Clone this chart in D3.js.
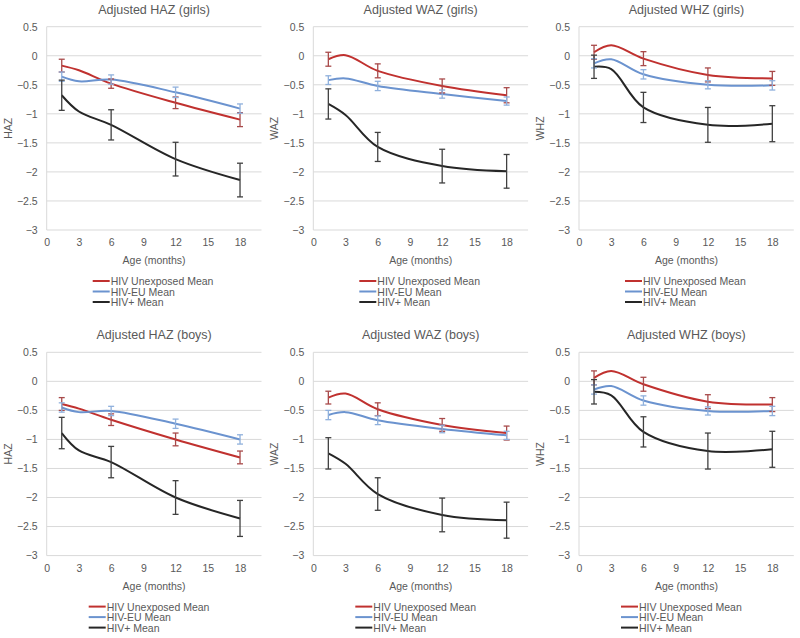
<!DOCTYPE html>
<html><head><meta charset="utf-8">
<script src="https://cdn.jsdelivr.net/npm/d3@7"></script>
<style>body{margin:0;background:#fff}svg{display:block}text{font-family:"Liberation Sans",Arial,sans-serif;fill:#595959}</style>
</head><body><svg id="c" width="800" height="638"></svg>
<script>
const ages = [1.4, 3, 6, 12, 18];
const xTicks = [0, 3, 6, 9, 12, 15, 18];
const yTicks = [0.5, 0, -0.5, -1, -1.5, -2, -2.5, -3];
const seriesNames = ["HIV Unexposed Mean", "HIV-EU Mean", "HIV+ Mean"];
const panelTitles = ["Adjusted HAZ (girls)", "Adjusted WAZ (girls)", "Adjusted WHZ (girls)", "Adjusted HAZ (boys)", "Adjusted WAZ (boys)", "Adjusted WHZ (boys)"];
const yLabels = ["HAZ", "WAZ", "WHZ", "HAZ", "WAZ", "WHZ"];

// HAZ girls
const hazGirlsUnexp = [-0.17, -0.25, -0.48, -0.81, -1.10];
const hazGirlsUnexpErr = [0.11, null, 0.08, 0.10, 0.12];
const hazGirlsEU = [-0.36, -0.44, -0.41, -0.63, -0.91];
const hazGirlsEUErr = [0.08, null, 0.08, 0.09, 0.08];
const hazGirlsPos = [-0.68, -0.96, -1.19, -1.78, -2.14];
const hazGirlsPosErr = [0.26, null, 0.26, 0.29, 0.29];
// WAZ girls
const wazGirlsUnexp = [-0.06, 0.01, -0.26, -0.52, -0.68];
const wazGirlsUnexpErr = [0.12, null, 0.12, 0.12, 0.13];
const wazGirlsEU = [-0.42, -0.39, -0.52, -0.66, -0.78];
const wazGirlsEUErr = [0.075, null, 0.08, 0.07, 0.07];
const wazGirlsPos = [-0.83, -1.02, -1.57, -1.90, -1.99];
const wazGirlsPosErr = [0.26, null, 0.25, 0.29, 0.29];
// WHZ girls
const whzGirlsUnexp = [0.06, 0.18, -0.05, -0.33, -0.39];
const whzGirlsUnexpErr = [0.12, null, 0.12, 0.12, 0.12];
const whzGirlsEU = [-0.13, -0.06, -0.32, -0.50, -0.51];
const whzGirlsEUErr = [0.08, null, 0.08, 0.07, 0.08];
const whzGirlsPos = [-0.19, -0.23, -0.89, -1.19, -1.17];
const whzGirlsPosErr = [0.20, null, 0.26, 0.30, 0.31];
// HAZ boys
const hazBoysUnexp = [-0.39, -0.47, -0.66, -1.00, -1.31];
const hazBoysUnexpErr = [0.11, null, 0.10, 0.11, 0.11];
const hazBoysEU = [-0.45, -0.53, -0.51, -0.73, -1.00];
const hazBoysEUErr = [0.08, null, 0.08, 0.08, 0.08];
const hazBoysPos = [-0.89, -1.19, -1.39, -2.00, -2.36];
const hazBoysPosErr = [0.27, null, 0.27, 0.29, 0.31];
// WAZ boys
const wazBoysUnexp = [-0.28, -0.21, -0.48, -0.75, -0.89];
const wazBoysUnexpErr = [0.11, null, 0.11, 0.11, 0.12];
const wazBoysEU = [-0.58, -0.53, -0.67, -0.82, -0.93];
const wazBoysEUErr = [0.08, null, 0.075, 0.065, 0.07];
const wazBoysPos = [-1.24, -1.42, -1.94, -2.30, -2.39];
const wazBoysPosErr = [0.27, null, 0.28, 0.29, 0.31];
// WHZ boys
const whzBoysUnexp = [0.06, 0.18, -0.05, -0.35, -0.40];
const whzBoysUnexpErr = [0.12, null, 0.12, 0.12, 0.12];
const whzBoysEU = [-0.14, -0.08, -0.33, -0.51, -0.51];
const whzBoysEUErr = [0.08, null, 0.08, 0.07, 0.08];
const whzBoysPos = [-0.18, -0.24, -0.87, -1.20, -1.17];
const whzBoysPosErr = [0.21, null, 0.26, 0.31, 0.31];

const panels = [
  [[hazGirlsUnexp, hazGirlsUnexpErr], [hazGirlsEU, hazGirlsEUErr], [hazGirlsPos, hazGirlsPosErr]],
  [[wazGirlsUnexp, wazGirlsUnexpErr], [wazGirlsEU, wazGirlsEUErr], [wazGirlsPos, wazGirlsPosErr]],
  [[whzGirlsUnexp, whzGirlsUnexpErr], [whzGirlsEU, whzGirlsEUErr], [whzGirlsPos, whzGirlsPosErr]],
  [[hazBoysUnexp, hazBoysUnexpErr], [hazBoysEU, hazBoysEUErr], [hazBoysPos, hazBoysPosErr]],
  [[wazBoysUnexp, wazBoysUnexpErr], [wazBoysEU, wazBoysEUErr], [wazBoysPos, wazBoysPosErr]],
  [[whzBoysUnexp, whzBoysUnexpErr], [whzBoysEU, whzBoysEUErr], [whzBoysPos, whzBoysPosErr]]
];

const lineColors = ["#c0312f", "#6b93cf", "#262626"];
const errColors = ["#a84a4a", "#8fb0dc", "#404040"];

const svg = d3.select("#c");
const colX = [46.7, 313.3, 579];
const rowY = [26.7, 352.3];
const W = 214.8, H = 203.3;

panels.forEach((series, i) => {
  const col = i % 3, row = Math.floor(i / 3);
  const g = svg.append("g").attr("transform", `translate(${colX[col]},${rowY[row]})`);
  const x = d3.scaleLinear().domain([0, 20]).range([0, W]);
  const y = d3.scaleLinear().domain([-3, 0.5]).range([H, 0]);

  g.append("g").selectAll("line").data(yTicks).join("line")
    .attr("x1", 0).attr("x2", W).attr("y1", d => y(d)).attr("y2", d => y(d))
    .attr("stroke", "#d9d9d9").attr("stroke-width", 1);
  g.append("line").attr("x1", 0).attr("x2", 0).attr("y1", 0).attr("y2", H)
    .attr("stroke", "#d9d9d9");

  const ya = g.append("g").call(d3.axisLeft(y).tickValues(yTicks).tickSize(0).tickPadding(9).tickFormat(d => d3.format("")(d)));
  ya.select(".domain").remove();
  ya.selectAll("text").attr("font-size", 10.5).attr("fill", "#595959").style("font-family", '"Liberation Sans",Arial,sans-serif');

  const xa = g.append("g").attr("transform", `translate(0,${H})`)
    .call(d3.axisBottom(x).tickValues(xTicks).tickSize(0).tickPadding(9));
  xa.select(".domain").remove();
  xa.selectAll("text").attr("font-size", 10.5).attr("fill", "#595959").style("font-family", '"Liberation Sans",Arial,sans-serif');

  g.append("text").attr("x", W / 2).attr("y", -13).attr("text-anchor", "middle")
    .attr("font-size", 12.5).text(panelTitles[i]);
  g.append("text").attr("transform", `translate(${-35},${H / 2}) rotate(-90)`)
    .attr("text-anchor", "middle").attr("font-size", 10.5).text(yLabels[i]);
  g.append("text").attr("x", W / 2).attr("y", H + 34).attr("text-anchor", "middle")
    .attr("font-size", 10.5).text("Age (months)");

  const line = d3.line().x((d, k) => x(ages[k])).y(d => y(d)).curve(d3.curveCatmullRom.alpha(0.5));

  series.forEach(([vals, errs], s) => {
    g.append("path").attr("d", line(vals)).attr("fill", "none")
      .attr("stroke", lineColors[s]).attr("stroke-width", 2);
  });
  series.forEach(([vals, errs], s) => {
    const eg = g.append("g").attr("stroke", errColors[s]).attr("stroke-width", 1.3);
    vals.forEach((v, k) => {
      const e = errs[k];
      if (e == null) return;
      const cx = x(ages[k]);
      eg.append("line").attr("x1", cx).attr("x2", cx).attr("y1", y(v + e)).attr("y2", y(v - e));
      eg.append("line").attr("x1", cx - 3).attr("x2", cx + 3).attr("y1", y(v + e)).attr("y2", y(v + e));
      eg.append("line").attr("x1", cx - 3).attr("x2", cx + 3).attr("y1", y(v - e)).attr("y2", y(v - e));
    });
  });

  const lg = g.append("g").attr("transform", `translate(${row === 0 ? 46 : 42},${H + 51})`);
  seriesNames.forEach((n, s) => {
    lg.append("line").attr("x1", 0).attr("x2", 17).attr("y1", s * 10.5).attr("y2", s * 10.5)
      .attr("stroke", lineColors[s]).attr("stroke-width", 2);
    lg.append("text").attr("x", 18).attr("y", s * 10.5 + 4).attr("font-size", 10.5).text(n);
  });
});
</script></body></html>
